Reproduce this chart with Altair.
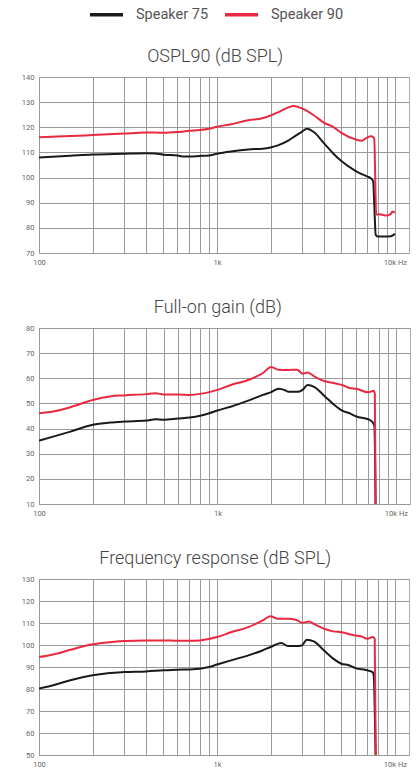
import altair as alt
import pandas as pd

SERIES = ["Speaker 75", "Speaker 90"]
COLORS = ["#1a1a1a", "#e8293f"]

# ---------- OSPL90 (dB SPL) ----------
ospl_f_75 = [100, 150, 200, 300, 400, 450, 500, 600, 650, 700, 800, 900, 1000, 1200, 1500, 1800, 2000, 2200,
             2500, 2800, 3000, 3200, 3500, 4000, 4500, 5000, 6000, 7000, 7300, 7550, 7650, 7800, 8000, 9000, 9500, 10000]
ospl_v_75 = [108.0, 108.7, 109.2, 109.5, 109.7, 109.6, 109.1, 108.8, 108.4, 108.4, 108.6, 108.8, 109.5, 110.4, 111.2,
             111.5, 112.0, 112.8, 114.6, 116.9, 118.2, 119.4, 118.1, 113.6, 109.6, 106.6, 102.7, 100.4, 99.8, 98.5,
             90.0, 77.2, 76.6, 76.6, 76.7, 77.6]
ospl_f_90 = [100, 150, 200, 300, 400, 450, 500, 600, 700, 800, 900, 1000, 1200, 1500, 1800, 2000, 2200, 2500, 2700,
             3000, 3500, 4000, 4500, 5000, 6000, 6500, 7000, 7400, 7650, 7850, 8200, 9000, 9500, 9700, 10000]
ospl_v_90 = [116.0, 116.5, 116.9, 117.5, 117.9, 117.9, 117.8, 118.1, 118.6, 118.9, 119.4, 120.2, 121.2, 122.8, 123.6,
             124.7, 125.9, 127.8, 128.5, 127.5, 124.8, 121.8, 120.2, 117.8, 115.2, 114.6, 116.0, 116.4, 115.5, 85.3,
             85.4, 84.9, 85.6, 86.5, 86.0]

# ---------- Full-on gain (dB) ----------
gain_f_75 = [100, 120, 150, 200, 250, 300, 400, 450, 500, 600, 700, 800, 900, 1000, 1200, 1500, 1800, 2000, 2200,
             2400, 2500, 2800, 3000, 3200, 3500, 4000, 4500, 5000, 5500, 6000, 7000, 7400, 7580, 7720]
gain_v_75 = [35.2, 36.8, 38.8, 41.5, 42.4, 42.8, 43.2, 43.7, 43.5, 44.0, 44.4, 45.1, 46.1, 47.2, 48.8, 51.2, 53.4,
             54.5, 55.8, 55.2, 54.6, 54.6, 55.4, 57.3, 56.5, 52.8, 49.5, 47.1, 46.1, 44.8, 43.7, 42.6, 41.0, 0.0]
gain_f_90 = [100, 120, 150, 200, 250, 300, 400, 450, 500, 600, 700, 800, 900, 1000, 1200, 1500, 1800, 2000, 2200,
             2500, 2800, 3000, 3200, 3500, 4000, 4500, 5000, 5500, 6000, 7000, 7500, 7620, 7720]
gain_v_90 = [46.1, 46.8, 48.5, 51.4, 52.8, 53.2, 53.7, 54.0, 53.6, 53.6, 53.4, 53.8, 54.5, 55.4, 57.4, 59.4, 62.1,
             64.5, 63.4, 63.3, 63.4, 61.8, 62.3, 60.7, 58.8, 58.1, 57.3, 56.1, 55.8, 54.4, 55.0, 54.0, 0.0]

# ---------- Frequency response (dB SPL) ----------
fr_f_75 = [100, 120, 150, 200, 250, 300, 400, 500, 600, 700, 800, 900, 1000, 1200, 1500, 1800, 2000, 2300, 2500,
           2800, 3000, 3200, 3500, 4000, 4500, 5000, 5500, 6000, 7000, 7500, 7600, 7850]
fr_v_75 = [80.2, 81.7, 84.0, 86.2, 87.3, 87.7, 88.0, 88.5, 88.8, 88.9, 89.2, 90.0, 91.1, 93.0, 95.3, 97.5, 99.1,
           100.9, 99.5, 99.5, 99.8, 102.4, 101.6, 97.5, 93.8, 91.5, 90.8, 89.5, 88.5, 87.7, 86.2, 30.0]
fr_f_90 = [100, 120, 150, 200, 250, 300, 400, 500, 600, 700, 800, 900, 1000, 1200, 1500, 1800, 2000, 2200, 2500,
           2800, 3000, 3300, 3500, 4000, 4500, 5000, 6000, 6500, 7000, 7500, 7700, 7850]
fr_v_90 = [94.5, 95.7, 97.8, 100.3, 101.3, 101.8, 102.1, 102.1, 101.9, 101.9, 102.1, 102.7, 103.6, 105.8, 108.1,
           111.1, 113.1, 111.9, 111.9, 111.4, 110.1, 110.7, 109.6, 107.4, 106.2, 105.8, 104.3, 103.9, 102.8, 103.6,
           102.8, 30.0]

GRID_X = [100, 200, 300, 400, 500, 600, 700, 800, 900, 1000, 2000, 3000, 4000, 5000, 6000, 7000, 8000, 9000, 10000]


def frame(f75, v75, f90, v90):
    a = pd.DataFrame({"f": f75, "v": v75, "s": SERIES[0], "o": range(len(f75))})
    b = pd.DataFrame({"f": f90, "v": v90, "s": SERIES[1], "o": range(len(f90))})
    return pd.concat([a, b], ignore_index=True)


def panel(df, title, ymin, ymax, width, legend):
    color_legend = None
    if legend:
        color_legend = alt.Legend(orient="none", legendX=60, legendY=-70, direction="horizontal",
                                  title=None, symbolType="M-3,0H3", symbolSize=121, symbolStrokeWidth=3.5,
                                  symbolFillColor="transparent",
                                  labelFontSize=14.5, labelFont="Roboto", labelColor="#555",
                                  columnPadding=9, labelOffset=22, padding=0)
    return alt.Chart(df).mark_line(strokeWidth=2, clip=True, interpolate="monotone").encode(
        x=alt.X("f:Q", scale=alt.Scale(type="log", domain=[100, 12000], nice=False),
                axis=alt.Axis(values=GRID_X, title=None, ticks=False, domain=False, grid=True,
                              labelExpr="datum.value == 100 ? '100' : datum.value == 1000 ? '1k' : datum.value == 10000 ? '10k Hz' : ''",
                              labelOverlap=False, labelFlush=False)),
        y=alt.Y("v:Q", scale=alt.Scale(domain=[ymin, ymax], nice=False, zero=False),
                axis=alt.Axis(values=list(range(ymin, ymax + 1, 10)), title=None, ticks=False, domain=False,
                              grid=True)),
        color=alt.Color("s:N", scale=alt.Scale(domain=SERIES, range=COLORS), legend=color_legend),
        order="o:Q",
    ).properties(
        width=width, height=176,
        title=alt.TitleParams(title, fontSize=18, font="Roboto", fontWeight=300, color="#444",
                              offset=7, anchor="middle", frame="bounds"),
    )


p1 = panel(frame(ospl_f_75, ospl_v_75, ospl_f_90, ospl_v_90), "OSPL90 (dB SPL)", 70, 140, 370, True)
p2 = panel(frame(gain_f_75, gain_v_75, gain_f_90, gain_v_90), "Full-on gain (dB)", 10, 80, 371, False)
p3 = panel(frame(fr_f_75, fr_v_75, fr_f_90, fr_v_90), "Frequency response (dB SPL)", 50, 130, 370, False)

chart = alt.vconcat(p1, p2, p3, spacing=32).properties(
    padding={"left": 20, "right": 2, "top": 7, "bottom": 2}
).configure(
    font="Roboto", background="white"
).configure_concat(spacing=32).configure_view(
    stroke="#aaa", strokeWidth=1
).configure_axis(
    labelFont="Roboto", labelFontSize=7.5, labelColor="#666", labelPadding=5,
    gridColor="#999", gridWidth=1, gridOpacity=1
).resolve_scale(color="shared")

chart.save("out.html", embed_options={"renderer": "svg", "actions": False})
